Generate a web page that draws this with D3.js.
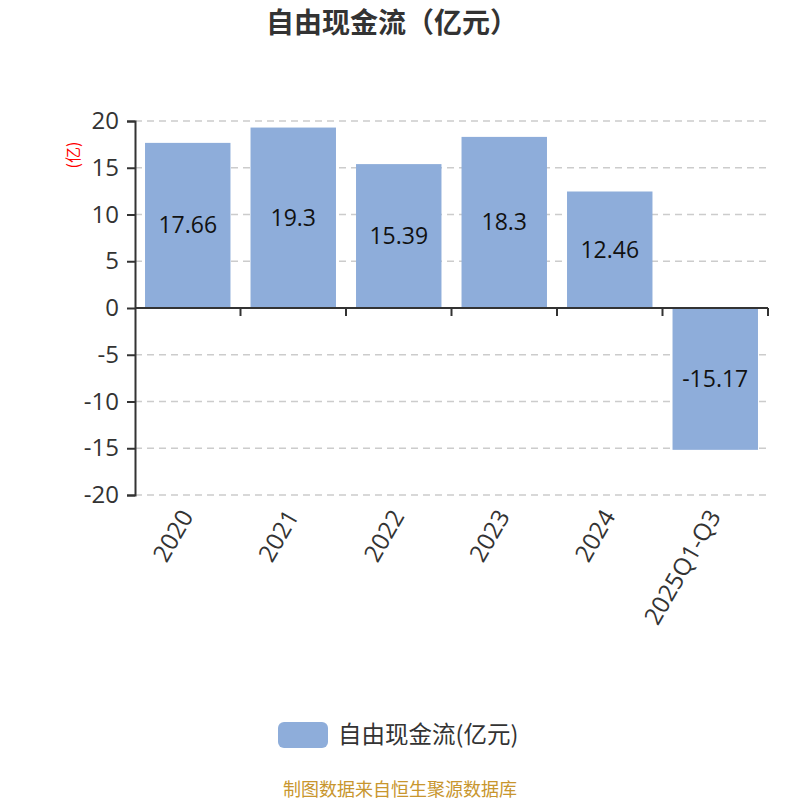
<!DOCTYPE html>
<html>
<head>
<meta charset="utf-8">
<script src="https://cdn.jsdelivr.net/npm/d3@7"></script>
<style>
  body { margin: 0; background: #fff; }
  svg { font-family: "Noto Sans CJK SC", "Noto Sans", sans-serif; }
</style>
</head>
<body>
<div id="chart"></div>
<script>
// 数据
const categories = ["2020", "2021", "2022", "2023", "2024", "2025Q1-Q3"];
const values = [17.66, 19.3, 15.39, 18.3, 12.46, -15.17];
const yTicks = [-20, -15, -10, -5, 0, 5, 10, 15, 20];

const W = 800, H = 800;
const margin = { top: 121, right: 32, bottom: 305, left: 135 };
const width = W - margin.left - margin.right;
const height = H - margin.top - margin.bottom;
const numFont = "'Open Sans', 'Noto Sans', sans-serif";

const svg = d3.select("#chart").append("svg")
    .attr("width", W).attr("height", H);

// 标题
svg.append("text")
    .attr("x", W / 2 - 8).attr("y", 23).attr("dy", "0.35em")
    .attr("text-anchor", "middle")
    .style("font-size", "28px").style("font-weight", "bold")
    .style("fill", "#333")
    .text("自由现金流（亿元）");

const g = svg.append("g").attr("transform", `translate(${margin.left},${margin.top})`);

const x = d3.scaleBand().domain(categories).range([0, width]).paddingInner(0.19).paddingOuter(0.095);
const y = d3.scaleLinear().domain([-20, 20]).range([height, 0]);

// 网格线
g.selectAll(".grid")
    .data(yTicks)
    .enter().append("line")
    .attr("x1", 0).attr("x2", width)
    .attr("y1", d => y(d)).attr("y2", d => y(d))
    .style("stroke", "#ccc").style("stroke-width", 1.5)
    .style("stroke-dasharray", "7,5");

// 柱子
g.selectAll(".bar")
    .data(values)
    .enter().append("rect")
    .attr("x", (d, i) => x(categories[i]))
    .attr("width", x.bandwidth())
    .attr("y", d => y(Math.max(0, d)))
    .attr("height", d => Math.abs(y(d) - y(0)))
    .style("fill", "#8eadda");

// 数值标签
g.selectAll(".val")
    .data(values)
    .enter().append("text")
    .attr("x", (d, i) => x(categories[i]) + x.bandwidth() / 2)
    .attr("y", d => (y(d) + y(0)) / 2)
    .attr("dy", "0.35em")
    .attr("text-anchor", "middle")
    .style("font-size", "23px").style("fill", "#111")
    .style("font-family", numFont)
    .text(d => String(d));

// Y 轴
const yAxis = g.append("g")
    .call(d3.axisLeft(y).tickValues(yTicks).tickSize(8).tickPadding(8).tickFormat(d => String(d)));
yAxis.select(".domain").style("stroke", "#333").style("stroke-width", 2);
yAxis.selectAll(".tick line").style("stroke", "#333").style("stroke-width", 2);
yAxis.selectAll(".tick text").style("font-size", "24px").style("fill", "#333")
    .style("font-family", numFont);

// X 轴（零线）
const boundaries = d3.range(categories.length + 1).map(i => i * width / categories.length);
const xAxis = g.append("g").attr("transform", `translate(0,${y(0)})`);
xAxis.append("line")
    .attr("x1", 0).attr("x2", width)
    .style("stroke", "#333").style("stroke-width", 2);
xAxis.selectAll(".tk")
    .data(boundaries.slice(1))
    .enter().append("line")
    .attr("x1", d => d).attr("x2", d => d)
    .attr("y1", 0).attr("y2", 8)
    .style("stroke", "#333").style("stroke-width", 2);

// X 轴标签（底部，旋转）
g.selectAll(".xl")
    .data(categories)
    .enter().append("text")
    .attr("transform", d => `translate(${x(d) + x.bandwidth() / 2 - 1},${height + 17}) rotate(-60)`)
    .attr("text-anchor", "end")
    .attr("dy", "0.35em")
    .style("font-size", "24px").style("fill", "#333")
    .style("font-family", numFont)
    .text(d => d);

// 单位
svg.append("text")
    .attr("transform", "translate(73,155) rotate(-90)")
    .attr("text-anchor", "middle")
    .attr("dy", "0.35em")
    .style("font-size", "16px").style("fill", "red")
    .text("(亿)");

// 图例
svg.append("rect")
    .attr("x", 278).attr("y", 722).attr("width", 50).attr("height", 26)
    .attr("rx", 6).style("fill", "#8eadda");
svg.append("text")
    .attr("x", 338).attr("y", 735).attr("dy", "0.35em")
    .style("font-size", "23.5px").style("fill", "#333")
    .text("自由现金流(亿元)");

// 来源
svg.append("text")
    .attr("x", W / 2).attr("y", 790).attr("dy", "0.35em")
    .attr("text-anchor", "middle")
    .style("font-size", "18px").style("fill", "#c8962e")
    .text("制图数据来自恒生聚源数据库");
</script>
</body>
</html>
